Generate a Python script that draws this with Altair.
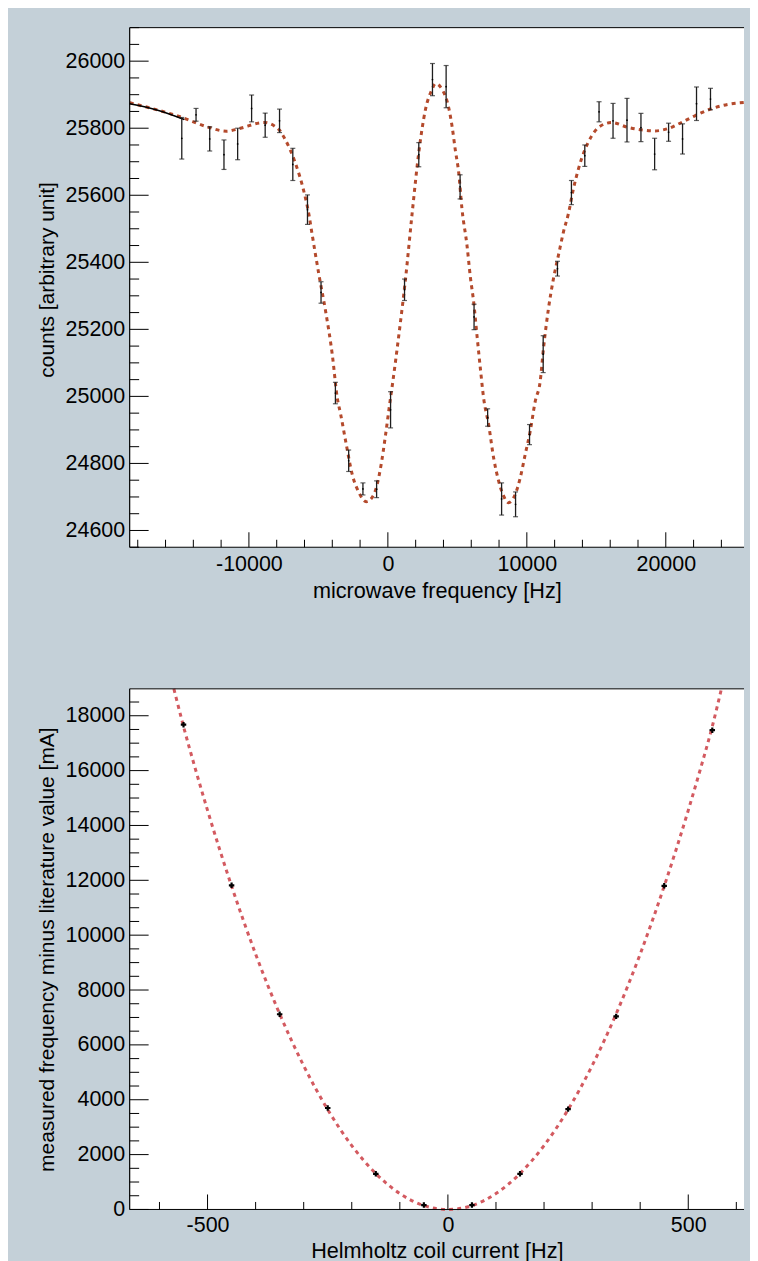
import altair as alt
import pandas as pd

BG = "#c4d0d8"
FONT = "Liberation Sans"
LFS = 21.5   # tick label size
TFS = 21.7   # x title size
YTFS = 21    # y title size

# ---------------- top panel data ----------------
freq = [-14831, -13805, -12821, -11795, -10811, -9806, -8830, -7796, -6841, -5786,
        -4810, -3776, -2821, -1795, -811, 194, 1199, 2225, 3209, 4192,
        5197, 6202, 7179, 8184, 9189, 10194, 11177, 12204, 13209, 14171,
        15197, 16203, 17208, 18212, 19196, 20201, 21206, 22211, 23216]
counts = [25770, 25840, 25768, 25721, 25753, 25859, 25809, 25822, 25692, 25557,
          25310, 25010, 24808, 24724, 24723, 24960, 25318, 25721, 25945, 25924,
          25625, 25237, 24937, 24694, 24678, 24886, 25126, 25381, 25608, 25718,
          25849, 25822, 25824, 25802, 25723, 25788, 25768, 25873, 25887]
counts_err = [62, 19, 36, 44, 47, 40, 36, 35, 48, 44,
              32, 32, 32, 18, 25, 54, 32, 36, 48, 63,
              36, 38, 26, 48, 37, 30, 55, 22, 36, 32,
              30, 52, 65, 42, 47, 27, 45, 50, 32]

fit_f = [-18581, -14808, -12849, -11628, -10695, -8901, -7824, -7465, -6676,
         -6030, -5671, -5477, -4953, -4472, -3998, -3639, -3395, -3036, -2563,
         -2082, -1558, -1005, -524, -165, 122, 359, 790, 1271, 1744,
         2225, 2706, 3180, 3424, 3898, 4379, 4615, 4860, 5096, 5333,
         5692, 5936, 6173, 6410, 6654, 6891, 7250, 7609, 7968, 8326,
         8685, 9116, 9525, 9884, 10243, 10602, 10961, 11198, 11557, 11915,
         12274, 12633, 12992, 13351, 13710, 14191, 14665, 15146, 16100, 17299,
         18254, 19216, 20170, 21125, 22087, 23278, 24477, 25629]
fit_c = [25876, 25832, 25802, 25791, 25799, 25817, 25795, 25772, 25698,
         25609, 25540, 25490, 25361, 25252, 25124, 24995, 24946, 24866, 24767,
         24713, 24686, 24708, 24787, 24886, 24975, 25045, 25183, 25351, 25545,
         25728, 25856, 25916, 25933, 25916, 25861, 25807, 25733, 25668, 25559,
         25451, 25356, 25282, 25183, 25084, 24995, 24916, 24817, 24748, 24703,
         24683, 24703, 24757, 24827, 24896, 24985, 25045, 25143, 25262, 25351,
         25421, 25490, 25545, 25619, 25678, 25737, 25777, 25802, 25817, 25802,
         25795, 25792, 25799, 25817, 25837, 25858, 25871, 25877]

black_f = [-18581, -16500, -14650]
black_c = [25873, 25853, 25826]

top_x_major = [-10000, 0, 10000, 20000]
top_x_minor = [v for v in range(-18000, 24001, 2000) if v % 10000 != 0]
top_y_major = [24600, 24800, 25000, 25200, 25400, 25600, 25800, 26000]
top_y_minor = [v for v in range(24550, 26101, 50) if v % 200 != 0]

# ---------------- bottom panel data ----------------
current = [-550, -450, -350, -250, -150, -50, 50, 150, 250, 350, 450, 550]
delta = [17673, 11818, 7116, 3698, 1298, 160, 160, 1298, 3658, 7040, 11800, 17473]

par_x = [-570, -550, -525, -500, -450, -400, -350, -300, -250, -200, -150, -100, -50,
         0, 50, 100, 150, 200, 250, 300, 350, 400, 450, 500, 525, 550, 569]
par_y = [18980, 17610, 16040, 14550, 11790, 9310, 7130, 5240, 3640, 2330, 1310, 580, 140,
         0, 140, 580, 1310, 2330, 3640, 5240, 7130, 9310, 11790, 14550, 16040, 17610, 18980]

bot_x_major = [-500, 0, 500]
bot_x_minor = [v for v in range(-600, 601, 100) if v % 500 != 0]
bot_y_major = [0, 2000, 4000, 6000, 8000, 10000, 12000, 14000, 16000, 18000]
bot_y_minor = [v for v in range(500, 18501, 500) if v % 2000 != 0]

W = 616
H1 = 521
H2 = 522

xs1 = alt.Scale(domain=[-18581, 25629], nice=False, zero=False)
ys1 = alt.Scale(domain=[24550, 26100], nice=False, zero=False)
xs2 = alt.Scale(domain=[-662, 616], nice=False, zero=False)
ys2 = alt.Scale(domain=[0, 18980], nice=False, zero=False)

LBL = "'' + datum.value"


def ax(values, title, tp, lp, tfs, **kw):
    return alt.Axis(values=values, title=title, labelExpr=LBL, ticks=False, tickSize=0,
                    domain=False, grid=False, labelPadding=lp, titlePadding=tp,
                    labelFont=FONT, labelFontSize=LFS, labelColor="black",
                    titleFont=FONT, titleFontSize=tfs, titleColor="black",
                    titleFontWeight="normal", labelFlush=False, labelOverlap=False, **kw)


ax_x1 = ax(top_x_major, "microwave frequency [Hz]", 6, 6, TFS)
ax_y1 = ax(top_y_major, "counts [arbitrary unit]", 8, 5, YTFS, titleY=H1 / 2 - 8)
ax_x2 = ax(bot_x_major, "Helmholtz coil current [Hz]", 5, 5, TFS)
ax_y2 = ax(bot_y_major, "measured frequency minus literature value [mA]", 8, 5, YTFS)


def X(field, sc, a):
    return alt.X(field, type="quantitative", scale=sc, axis=a)


def Y(field, sc, a):
    return alt.Y(field, type="quantitative", scale=sc, axis=a)


def frame_and_ticks(xmaj, xmin, ymaj, ymin, xs, ys, axx, axy, H):
    layers = []
    one = pd.DataFrame({"k": [0]})
    # plot frame: top, left, bottom (right edge runs off the page)
    layers.append(alt.Chart(one).mark_rule(color="black", strokeWidth=1).encode(
        x=alt.value(0), x2=alt.value(W), y=alt.value(0)))
    layers.append(alt.Chart(one).mark_rule(color="black", strokeWidth=1).encode(
        x=alt.value(0), x2=alt.value(W), y=alt.value(H)))
    layers.append(alt.Chart(one).mark_rule(color="black", strokeWidth=1.2).encode(
        x=alt.value(0), y=alt.value(0), y2=alt.value(H)))
    for vals, ln in ((xmaj, 15), (xmin, 7.5)):
        d = pd.DataFrame({"v": vals})
        layers.append(alt.Chart(d).mark_rule(color="black", strokeWidth=1).encode(
            x=X("v", xs, axx), y=alt.value(H), y2=alt.value(H - ln)))
    for vals, ln in ((ymaj, 19), (ymin, 9.5)):
        d = pd.DataFrame({"v": vals})
        layers.append(alt.Chart(d).mark_rule(color="black", strokeWidth=1).encode(
            y=Y("v", ys, axy), x=alt.value(0), x2=alt.value(ln)))
    return layers


# ---------- top chart ----------
top_df = pd.DataFrame({"f": freq, "c": counts, "e": counts_err})
top_df["lo"] = top_df["c"] - top_df["e"]
top_df["hi"] = top_df["c"] + top_df["e"]
fit_df = pd.DataFrame({"f": fit_f, "c": fit_c})
blk_df = pd.DataFrame({"f": black_f, "c": black_c})

fit_line = alt.Chart(fit_df).mark_line(color="#b44a2c", strokeWidth=3, strokeDash=[4, 4.2],
                                       interpolate="monotone").encode(
    x=X("f", xs1, ax_x1), y=Y("c", ys1, ax_y1))
blk_line = alt.Chart(blk_df).mark_line(color="black", strokeWidth=1.6,
                                       interpolate="monotone").encode(
    x=X("f", xs1, ax_x1), y=Y("c", ys1, ax_y1))
bars = alt.Chart(top_df).mark_rule(color="#1e1e1e", strokeWidth=1.3).encode(
    x=X("f", xs1, ax_x1), y=Y("lo", ys1, ax_y1), y2="hi")
cap_lo = alt.Chart(top_df).mark_tick(color="#1e1e1e", orient="horizontal", size=5, thickness=1.2).encode(
    x=X("f", xs1, ax_x1), y=Y("lo", ys1, ax_y1))
cap_hi = alt.Chart(top_df).mark_tick(color="#1e1e1e", orient="horizontal", size=5, thickness=1.2).encode(
    x=X("f", xs1, ax_x1), y=Y("hi", ys1, ax_y1))
dots = alt.Chart(top_df).mark_circle(color="black", size=3, opacity=1).encode(
    x=X("f", xs1, ax_x1), y=Y("c", ys1, ax_y1))

top_chart = alt.layer(
    fit_line, blk_line, bars, cap_lo, cap_hi, dots,
    *frame_and_ticks(top_x_major, top_x_minor, top_y_major, top_y_minor, xs1, ys1, ax_x1, ax_y1, H1)
).properties(width=W, height=H1)

# ---------- bottom chart ----------
bot_df = pd.DataFrame({"i": current, "d": delta})
par_df = pd.DataFrame({"i": par_x, "d": par_y})

par_line = alt.Chart(par_df).mark_line(color="#d35a60", strokeWidth=3, strokeDash=[4, 4.2],
                                       interpolate="monotone").encode(
    x=X("i", xs2, ax_x2), y=Y("d", ys2, ax_y2))
bot_pts = alt.Chart(bot_df).mark_point(shape="cross", filled=True, color="black", size=30, opacity=1).encode(
    x=X("i", xs2, ax_x2), y=Y("d", ys2, ax_y2))

bot_chart = alt.layer(
    par_line, bot_pts,
    *frame_and_ticks(bot_x_major, bot_x_minor, bot_y_major, bot_y_minor, xs2, ys2, ax_x2, ax_y2, H2)
).properties(width=W, height=H2)

chart = alt.vconcat(top_chart, bot_chart, spacing=80).properties(
    padding={"left": 28, "top": 17, "right": 0, "bottom": 0}
).configure(background=BG).configure_view(
    strokeWidth=0, fill="white"
)

chart.save("out.html", embed_options={"renderer": "svg", "actions": False})
